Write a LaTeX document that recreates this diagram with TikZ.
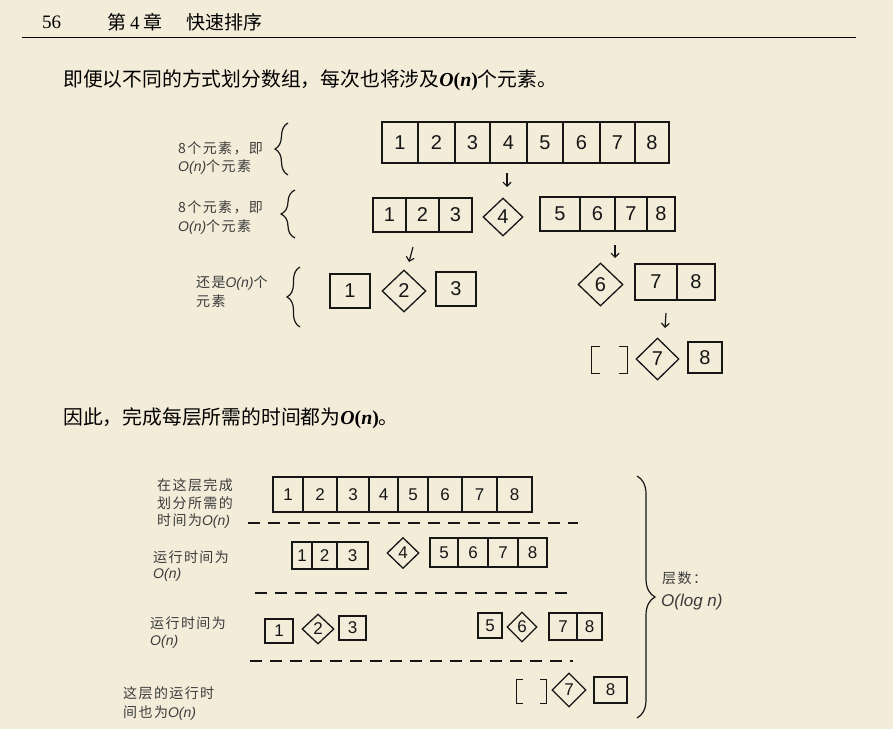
\documentclass[tikz,border=0pt]{standalone}
\usepackage{fontspec}
\setmainfont{Liberation Serif}
\newfontfamily\cjk{Noto Sans CJK SC}
\newfontfamily\hand[LetterSpace=10]{Noto Sans CJK SC}
\newfontfamily\dig{Liberation Sans}
\newfontfamily\handlat{Liberation Sans}
\usetikzlibrary{shapes.geometric,arrows.meta,decorations.pathreplacing}
\definecolor{paper}{RGB}{242,236,217}
\definecolor{inkc}{RGB}{22,22,22}
\definecolor{handc}{RGB}{60,60,60}
\newcommand\mybox[7]{\node[#1, minimum width={#4-#3}, minimum height={#6-#5}] (#2) at ({(#3+#4)/2},{(#5+#6)/2}) {#7};}
\newcommand\mydia[6]{\node[#1, minimum width=#4, minimum height=#5] (#2) at #3 {#6};}
\newcommand\On{{\handlat\itshape O(n)}}
\tikzset{
  cellA/.style={draw=inkc, line width=1.3pt, inner sep=0pt, text=inkc, font=\dig\fontsize{20}{24}\selectfont},
  cellB/.style={cellA, font=\dig\fontsize{17}{20}\selectfont},
  diaA/.style={cellA, diamond},
  diaB/.style={cellB, diamond},
  arr/.style={draw=inkc, line width=1.2pt, -{Straight Barb[length=4pt,width=8pt]}},
  brk/.style={draw=inkc, line width=1.3pt},
  handtxt/.style={anchor=west, inner sep=0pt, text=handc, font=\hand\fontsize{14}{16}\selectfont},
  dashline/.style={draw=inkc, line width=1.2pt, dash pattern=on 12pt off 8pt},
  lbrace/.style={decorate, decoration={brace, amplitude=#1}, draw=inkc, line width=1.2pt},
  bodytxt/.style={anchor=west, inner sep=0pt, text=black, font=\cjk\fontsize{19.8}{23}\selectfont}
}
\begin{document}
\begin{tikzpicture}[x=1pt,y=-1pt]
\fill[paper] (0,0) rectangle (893,729);
\useasboundingbox (0,0) rectangle (893,729);

% header
\node[anchor=west, inner sep=0pt, font=\rmfamily\fontsize{19}{22}\selectfont] (pgno) at (42,22) {56};
\node[anchor=west, inner sep=0pt, font=\cjk\fontsize{19}{22}\selectfont] (chap) at (107,22) {第\hspace{4pt}{\rmfamily 4}\hspace{4pt}章\hspace{24pt}快速排序};
\coordinate (rl) at (22,37);
\coordinate (rr) at (856,37);
\draw[line width=1pt] (rl) -- (rr);

% body texts
\node[bodytxt] (t1) at (63,80) {即便以不同的方式划分数组，每次也将涉及{\rmfamily\bfseries\itshape O\/\upshape(\itshape n\/\upshape)}个元素。};
\node[bodytxt] (t2) at (63,418) {因此，完成每层所需的时间都为{\rmfamily\bfseries\itshape O\/\upshape(\itshape n\/\upshape)}。};

% ---------- top diagram ----------
\node[handtxt] (la1) at (178,148) {8个元素，即};
\node[handtxt] (la2) at (178,167) {\On 个元素};
\node[handtxt] (lb1) at (178,207) {8个元素，即};
\node[handtxt] (lb2) at (178,227) {\On 个元素};
\node[handtxt] (lc1) at (196,283) {还是\On 个};
\node[handtxt] (lc2) at (196,301) {元素};
\coordinate (br1a) at (288,175); \coordinate (br1b) at (288,123);
\coordinate (br2a) at (295,238); \coordinate (br2b) at (295,190);
\coordinate (br3a) at (300,327); \coordinate (br3b) at (300,267);
\draw[lbrace=13pt] (br1a) -- (br1b);
\draw[lbrace=14pt] (br2a) -- (br2b);
\draw[lbrace=13pt] (br3a) -- (br3b);

% row 1
\mybox{cellA}{a1}{382}{418}{122}{163}{1}
\mybox{cellA}{a2}{418}{455}{122}{163}{2}
\mybox{cellA}{a3}{455}{490}{122}{163}{3}
\mybox{cellA}{a4}{490}{527}{122}{163}{4}
\mybox{cellA}{a5}{527}{563}{122}{163}{5}
\mybox{cellA}{a6}{563}{600}{122}{163}{6}
\mybox{cellA}{a7}{600}{635}{122}{163}{7}
\mybox{cellA}{a8}{635}{669}{122}{163}{8}

% row 2
\mybox{cellA}{b1}{373}{406}{198}{232}{1}
\mybox{cellA}{b2}{406}{439}{198}{232}{2}
\mybox{cellA}{b3}{439}{472}{198}{232}{3}
\mydia{diaA}{d4}{(503,217)}{40}{38}{4}
\mybox{cellA}{c5}{540}{580}{197}{231}{5}
\mybox{cellA}{c6}{580}{615}{197}{231}{6}
\mybox{cellA}{c7}{615}{647}{197}{231}{7}
\mybox{cellA}{c8}{647}{675}{197}{231}{8}

% row 3
\mybox{cellA}{e1}{330}{370}{274}{308}{1}
\mydia{diaA}{e2}{(404,291)}{44}{42}{2}
\mybox{cellA}{e3}{436}{476}{272}{306}{3}
\mydia{diaA}{f6}{(600.5,284.5)}{45}{43}{6}
\mybox{cellA}{f7}{635}{677}{264}{300}{7}
\mybox{cellA}{f8}{677}{715}{264}{300}{8}

% row 4
\node[inner sep=0pt, minimum width=35, minimum height=26] (g0) at (609.5,360) {};
\draw[brk] ([xshift=8pt]g0.north west) -- (g0.north west) -- (g0.south west) -- ([xshift=8pt]g0.south west);
\draw[brk] ([xshift=-8pt]g0.north east) -- (g0.north east) -- (g0.south east) -- ([xshift=-8pt]g0.south east);
\mydia{diaA}{g7}{(657.5,359)}{43}{42}{7}
\mybox{cellA}{g8}{688}{722}{342}{373}{8}

% arrows
\coordinate (p1) at (507,173); \coordinate (q1) at (507,187);
\coordinate (p2) at (413,247); \coordinate (q2) at (409,262);
\coordinate (p3) at (615,245); \coordinate (q3) at (615,258);
\coordinate (p4) at (666,313); \coordinate (q4) at (665,328);
\draw[arr] (p1) -- (q1);
\draw[arr] (p2) -- (q2);
\draw[arr] (p3) -- (q3);
\draw[arr] (p4) -- (q4);

% ---------- bottom diagram ----------
\node[handtxt] (ld1) at (157,485) {在这层完成};
\node[handtxt] (ld2) at (157,503) {划分所需的};
\node[handtxt] (ld3) at (157,521) {时间为\On};
\node[handtxt] (le1) at (153,557) {运行时间为};
\node[handtxt] (le2) at (153,575) {\On};
\node[handtxt] (lf1) at (150,623) {运行时间为};
\node[handtxt] (lf2) at (150,642) {\On};
\node[handtxt] (lg1) at (123,693) {这层的运行时};
\node[handtxt] (lg2) at (123,713) {间也为\On};
\node[handtxt] (lh1) at (662,578) {层数：};
\node[handtxt, font=\handlat\itshape\fontsize{17}{20}\selectfont] (lh2) at (661,602) {O(log n)};

\coordinate (rb1) at (637,476); \coordinate (rb2) at (637,718);
\draw[lbrace=18pt] (rb1) -- (rb2);

% dashed separators
\coordinate (s1a) at (248,523); \coordinate (s1b) at (578,523);
\coordinate (s2a) at (255,593); \coordinate (s2b) at (573,593);
\coordinate (s3a) at (250,661); \coordinate (s3b) at (573,661);
\draw[dashline] (s1a) -- (s1b);
\draw[dashline] (s2a) -- (s2b);
\draw[dashline] (s3a) -- (s3b);

% level 1
\mybox{cellB}{h1}{273}{303}{477}{512}{1}
\mybox{cellB}{h2}{303}{337}{477}{512}{2}
\mybox{cellB}{h3}{337}{369}{477}{512}{3}
\mybox{cellB}{h4}{369}{398}{477}{512}{4}
\mybox{cellB}{h5}{398}{428}{477}{512}{5}
\mybox{cellB}{h6}{428}{462}{477}{512}{6}
\mybox{cellB}{h7}{462}{497}{477}{512}{7}
\mybox{cellB}{h8}{497}{532}{477}{512}{8}

% level 2
\mybox{cellB}{i1}{292}{312}{542}{569}{1}
\mybox{cellB}{i2}{312}{337}{542}{569}{2}
\mybox{cellB}{i3}{337}{368}{542}{569}{3}
\mydia{diaB}{i4}{(403,553)}{32}{31}{4}
\mybox{cellB}{j5}{430}{458}{538}{567}{5}
\mybox{cellB}{j6}{458}{488}{538}{567}{6}
\mybox{cellB}{j7}{488}{518}{538}{567}{7}
\mybox{cellB}{j8}{518}{547}{538}{567}{8}

% level 3
\mybox{cellB}{k1}{265}{293}{619}{643}{1}
\mydia{diaB}{k2}{(318,629)}{32}{30}{2}
\mybox{cellB}{k3}{339}{366}{616}{640}{3}
\mybox{cellB}{l5}{478}{502}{613}{638}{5}
\mydia{diaB}{l6}{(522,627)}{30}{30}{6}
\mybox{cellB}{l7}{549}{577}{613}{640}{7}
\mybox{cellB}{l8}{577}{602}{613}{640}{8}

% level 4
\node[inner sep=0pt, minimum width=29, minimum height=23] (m0) at (531.5,691.5) {};
\draw[brk] ([xshift=6pt]m0.north west) -- (m0.north west) -- (m0.south west) -- ([xshift=6pt]m0.south west);
\draw[brk] ([xshift=-6pt]m0.north east) -- (m0.north east) -- (m0.south east) -- ([xshift=-6pt]m0.south east);
\mydia{diaB}{m7}{(569,690)}{34}{34}{7}
\mybox{cellB}{m8}{594}{627}{677}{703}{8}
\end{tikzpicture}
\end{document}
